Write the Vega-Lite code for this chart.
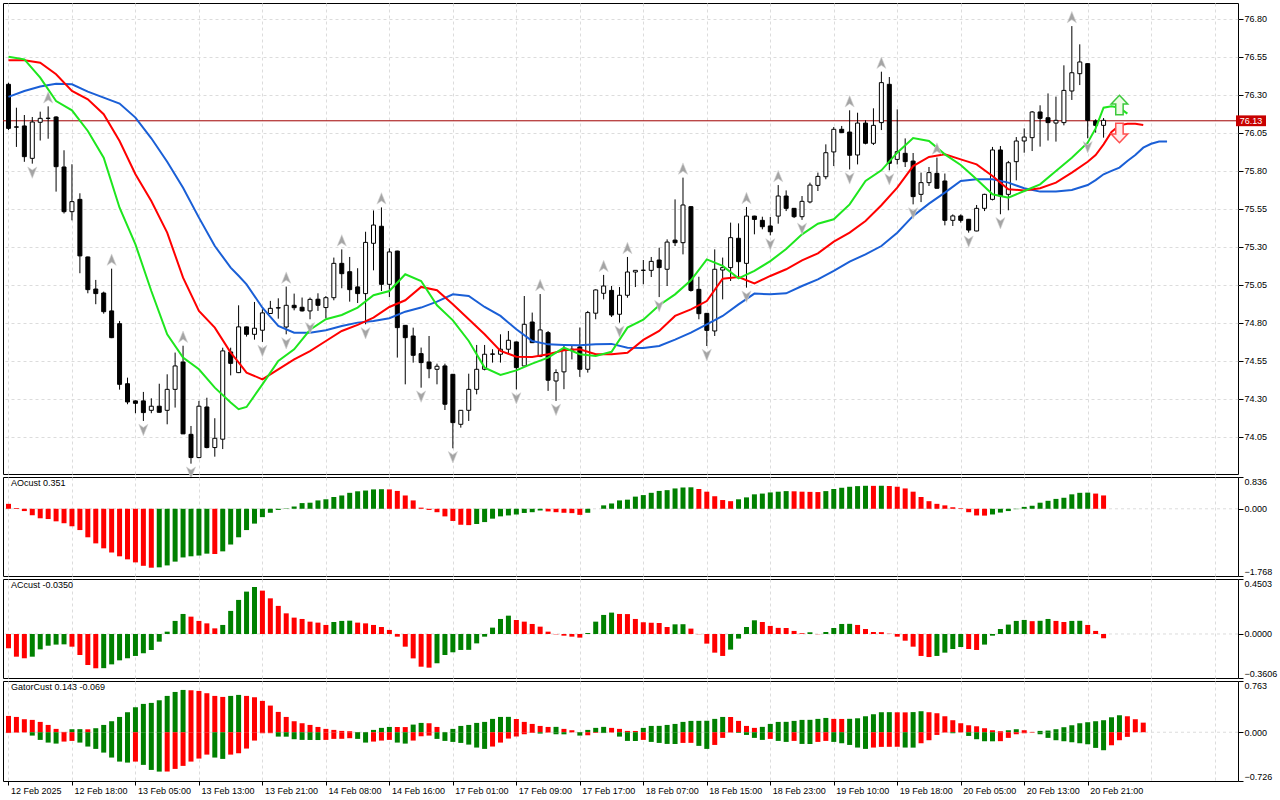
{
  "$schema": "https://vega.github.io/schema/vega-lite/v6.json",
  "background": "#ffffff",
  "padding": {"left": 2, "top": 2, "right": 0, "bottom": 0},
  "spacing": 3,
  "bounds": "flush",
  "config": {
    "view": {"stroke": "#000000", "strokeWidth": 1},
    "font": "Liberation Sans",
    "axis": {"labelFont": "Liberation Sans", "labelFontSize": 9, "labelColor": "#000000", "tickColor": "#000000", "domain": false, "title": null}
  },
  "datasets": {
    "candles": [
      {"i":0,"o":76.37,"h":76.38,"l":76.07,"c":76.08,"ao":0.13,"ac":-0.117},
      {"i":1,"o":76.09,"h":76.216,"l":75.958,"c":76.088,"ao":0.02,"ac":-0.186},
      {"i":2,"o":76.096,"h":76.168,"l":75.86,"c":75.894,"ao":-0.06,"ac":-0.199},
      {"i":3,"o":75.883,"h":76.155,"l":75.848,"c":76.122,"ao":-0.17,"ac":-0.186},
      {"i":4,"o":76.12,"h":76.19,"l":76.0,"c":76.146,"ao":-0.25,"ac":-0.126},
      {"i":5,"o":76.147,"h":76.225,"l":76.012,"c":76.146,"ao":-0.27,"ac":-0.096},
      {"i":6,"o":76.155,"h":76.16,"l":75.664,"c":75.828,"ao":-0.33,"ac":-0.087},
      {"i":7,"o":75.826,"h":75.936,"l":75.52,"c":75.532,"ao":-0.38,"ac":-0.085},
      {"i":8,"o":75.532,"h":75.844,"l":75.475,"c":75.598,"ao":-0.46,"ac":-0.104},
      {"i":9,"o":75.613,"h":75.653,"l":75.127,"c":75.241,"ao":-0.56,"ac":-0.172},
      {"i":10,"o":75.234,"h":75.236,"l":74.995,"c":75.019,"ao":-0.75,"ac":-0.254},
      {"i":11,"o":75.023,"h":75.083,"l":74.923,"c":74.993,"ao":-0.91,"ac":-0.281},
      {"i":12,"o":74.997,"h":75.006,"l":74.861,"c":74.874,"ao":-1.04,"ac":-0.28},
      {"i":13,"o":74.879,"h":75.157,"l":74.7,"c":74.703,"ao":-1.15,"ac":-0.249},
      {"i":14,"o":74.795,"h":74.813,"l":74.361,"c":74.396,"ao":-1.25,"ac":-0.216},
      {"i":15,"o":74.4,"h":74.44,"l":74.265,"c":74.28,"ao":-1.33,"ac":-0.199},
      {"i":16,"o":74.287,"h":74.29,"l":74.206,"c":74.271,"ao":-1.41,"ac":-0.18},
      {"i":17,"o":74.287,"h":74.346,"l":74.155,"c":74.21,"ao":-1.5,"ac":-0.158},
      {"i":18,"o":74.225,"h":74.304,"l":74.206,"c":74.252,"ao":-1.55,"ac":-0.131},
      {"i":19,"o":74.252,"h":74.4,"l":74.21,"c":74.212,"ao":-1.54,"ac":-0.063},
      {"i":20,"o":74.225,"h":74.462,"l":74.133,"c":74.363,"ao":-1.49,"ac":0.019},
      {"i":21,"o":74.363,"h":74.605,"l":74.243,"c":74.517,"ao":-1.39,"ac":0.107},
      {"i":22,"o":74.543,"h":74.65,"l":74.07,"c":74.07,"ao":-1.28,"ac":0.164},
      {"i":23,"o":74.067,"h":74.122,"l":73.874,"c":73.914,"ao":-1.25,"ac":0.142},
      {"i":24,"o":73.914,"h":74.287,"l":73.91,"c":74.252,"ao":-1.23,"ac":0.107},
      {"i":25,"o":74.247,"h":74.308,"l":73.975,"c":73.98,"ao":-1.18,"ac":0.087},
      {"i":26,"o":73.98,"h":74.173,"l":73.92,"c":74.041,"ao":-1.19,"ac":0.046},
      {"i":27,"o":74.035,"h":74.637,"l":73.97,"c":74.616,"ao":-1.12,"ac":0.074},
      {"i":28,"o":74.609,"h":74.637,"l":74.455,"c":74.534,"ao":-0.94,"ac":0.189},
      {"i":29,"o":74.473,"h":74.916,"l":74.47,"c":74.774,"ao":-0.75,"ac":0.279},
      {"i":30,"o":74.774,"h":74.776,"l":74.71,"c":74.725,"ao":-0.56,"ac":0.347},
      {"i":31,"o":74.725,"h":74.938,"l":74.69,"c":74.765,"ao":-0.39,"ac":0.385},
      {"i":32,"o":74.752,"h":74.89,"l":74.675,"c":74.866,"ao":-0.22,"ac":0.355},
      {"i":33,"o":74.862,"h":74.945,"l":74.86,"c":74.896,"ao":-0.105,"ac":0.292},
      {"i":34,"o":74.9,"h":74.962,"l":74.828,"c":74.898,"ao":-0.03,"ac":0.23},
      {"i":35,"o":74.773,"h":75.039,"l":74.725,"c":74.916,"ao":0.01,"ac":0.169},
      {"i":36,"o":74.916,"h":74.993,"l":74.883,"c":74.9,"ao":0.06,"ac":0.134},
      {"i":37,"o":74.903,"h":74.967,"l":74.875,"c":74.879,"ao":0.15,"ac":0.123},
      {"i":38,"o":74.879,"h":74.967,"l":74.824,"c":74.955,"ao":0.16,"ac":0.101},
      {"i":39,"o":74.956,"h":74.995,"l":74.879,"c":74.916,"ao":0.22,"ac":0.093},
      {"i":40,"o":74.901,"h":74.977,"l":74.83,"c":74.966,"ao":0.25,"ac":0.074},
      {"i":41,"o":74.966,"h":75.23,"l":74.949,"c":75.192,"ao":0.31,"ac":0.098},
      {"i":42,"o":75.192,"h":75.284,"l":75.028,"c":75.124,"ao":0.35,"ac":0.107},
      {"i":43,"o":75.137,"h":75.234,"l":74.94,"c":75.019,"ao":0.42,"ac":0.109},
      {"i":44,"o":75.037,"h":75.16,"l":74.931,"c":74.993,"ao":0.46,"ac":0.093},
      {"i":45,"o":74.993,"h":75.4,"l":74.791,"c":75.33,"ao":0.48,"ac":0.087},
      {"i":46,"o":75.324,"h":75.54,"l":75.146,"c":75.444,"ao":0.51,"ac":0.074},
      {"i":47,"o":75.436,"h":75.56,"l":75.01,"c":75.054,"ao":0.515,"ac":0.057},
      {"i":48,"o":75.054,"h":75.291,"l":74.97,"c":75.267,"ao":0.51,"ac":0.033},
      {"i":49,"o":75.273,"h":75.275,"l":74.572,"c":74.769,"ao":0.47,"ac":-0.022},
      {"i":50,"o":74.784,"h":74.786,"l":74.396,"c":74.703,"ao":0.35,"ac":-0.104},
      {"i":51,"o":74.714,"h":74.769,"l":74.539,"c":74.587,"ao":0.22,"ac":-0.2},
      {"i":52,"o":74.598,"h":74.638,"l":74.374,"c":74.539,"ao":0.03,"ac":-0.268},
      {"i":53,"o":74.543,"h":74.714,"l":74.436,"c":74.499,"ao":-0.03,"ac":-0.276},
      {"i":54,"o":74.495,"h":74.532,"l":74.396,"c":74.515,"ao":-0.09,"ac":-0.24},
      {"i":55,"o":74.517,"h":74.532,"l":74.227,"c":74.265,"ao":-0.2,"ac":-0.172},
      {"i":56,"o":74.462,"h":74.464,"l":73.975,"c":74.144,"ao":-0.32,"ac":-0.15},
      {"i":57,"o":74.133,"h":74.227,"l":74.111,"c":74.225,"ao":-0.42,"ac":-0.131},
      {"i":58,"o":74.225,"h":74.466,"l":74.155,"c":74.363,"ao":-0.43,"ac":-0.13},
      {"i":59,"o":74.363,"h":74.655,"l":74.33,"c":74.495,"ao":-0.4,"ac":-0.077},
      {"i":60,"o":74.495,"h":74.655,"l":74.488,"c":74.594,"ao":-0.35,"ac":-0.022},
      {"i":61,"o":74.596,"h":74.627,"l":74.539,"c":74.594,"ao":-0.26,"ac":0.052},
      {"i":62,"o":74.594,"h":74.725,"l":74.539,"c":74.627,"ao":-0.2,"ac":0.123},
      {"i":63,"o":74.627,"h":74.747,"l":74.594,"c":74.686,"ao":-0.175,"ac":0.15},
      {"i":64,"o":74.675,"h":74.677,"l":74.363,"c":74.506,"ao":-0.15,"ac":0.115},
      {"i":65,"o":74.517,"h":74.977,"l":74.515,"c":74.791,"ao":-0.11,"ac":0.101},
      {"i":66,"o":74.806,"h":74.868,"l":74.668,"c":74.67,"ao":-0.09,"ac":0.082},
      {"i":67,"o":74.58,"h":74.99,"l":74.575,"c":74.754,"ao":-0.045,"ac":0.06},
      {"i":68,"o":74.736,"h":74.747,"l":74.353,"c":74.423,"ao":-0.07,"ac":0.019},
      {"i":69,"o":74.418,"h":74.495,"l":74.287,"c":74.473,"ao":-0.09,"ac":-0.003},
      {"i":70,"o":74.478,"h":74.649,"l":74.364,"c":74.627,"ao":-0.105,"ac":-0.014},
      {"i":71,"o":74.627,"h":74.65,"l":74.56,"c":74.62,"ao":-0.115,"ac":-0.022},
      {"i":72,"o":74.642,"h":74.77,"l":74.445,"c":74.495,"ao":-0.16,"ac":-0.03},
      {"i":73,"o":74.495,"h":74.879,"l":74.473,"c":74.868,"ao":-0.105,"ac":0.008},
      {"i":74,"o":74.864,"h":75.021,"l":74.824,"c":75.017,"ao":0.0,"ac":0.101},
      {"i":75,"o":74.995,"h":75.116,"l":74.955,"c":75.043,"ao":0.09,"ac":0.156},
      {"i":76,"o":75.014,"h":75.043,"l":74.839,"c":74.852,"ao":0.14,"ac":0.175},
      {"i":77,"o":74.857,"h":75.036,"l":74.802,"c":74.982,"ao":0.22,"ac":0.164},
      {"i":78,"o":74.982,"h":75.234,"l":74.966,"c":75.135,"ao":0.24,"ac":0.163},
      {"i":79,"o":75.135,"h":75.146,"l":75.036,"c":75.146,"ao":0.32,"ac":0.123},
      {"i":80,"o":75.147,"h":75.214,"l":75.054,"c":75.146,"ao":0.36,"ac":0.096},
      {"i":81,"o":75.146,"h":75.234,"l":75.102,"c":75.205,"ao":0.42,"ac":0.092},
      {"i":82,"o":75.214,"h":75.295,"l":74.97,"c":75.164,"ao":0.47,"ac":0.09},
      {"i":83,"o":75.153,"h":75.35,"l":75.043,"c":75.332,"ao":0.49,"ac":0.057},
      {"i":84,"o":75.345,"h":75.613,"l":75.306,"c":75.328,"ao":0.535,"ac":0.079},
      {"i":85,"o":75.328,"h":75.756,"l":75.251,"c":75.576,"ao":0.56,"ac":0.08},
      {"i":86,"o":75.565,"h":75.567,"l":75.006,"c":75.014,"ao":0.565,"ac":0.044},
      {"i":87,"o":75.021,"h":75.104,"l":74.824,"c":74.861,"ao":0.52,"ac":-0.002},
      {"i":88,"o":74.863,"h":74.865,"l":74.648,"c":74.751,"ao":0.45,"ac":-0.079},
      {"i":89,"o":74.747,"h":75.284,"l":74.714,"c":75.153,"ao":0.33,"ac":-0.153},
      {"i":90,"o":75.148,"h":75.23,"l":74.955,"c":75.164,"ao":0.23,"ac":-0.18},
      {"i":91,"o":75.164,"h":75.46,"l":75.076,"c":75.361,"ao":0.2,"ac":-0.128},
      {"i":92,"o":75.357,"h":75.455,"l":75.098,"c":75.203,"ao":0.25,"ac":-0.038},
      {"i":93,"o":75.192,"h":75.563,"l":75.032,"c":75.503,"ao":0.3,"ac":0.057},
      {"i":94,"o":75.503,"h":75.505,"l":75.383,"c":75.481,"ao":0.38,"ac":0.112},
      {"i":95,"o":75.475,"h":75.499,"l":75.416,"c":75.433,"ao":0.4,"ac":0.098},
      {"i":96,"o":75.438,"h":75.497,"l":75.376,"c":75.4,"ao":0.43,"ac":0.066},
      {"i":97,"o":75.503,"h":75.707,"l":75.453,"c":75.635,"ao":0.45,"ac":0.05},
      {"i":98,"o":75.635,"h":75.672,"l":75.536,"c":75.554,"ao":0.465,"ac":0.049},
      {"i":99,"o":75.554,"h":75.556,"l":75.49,"c":75.499,"ao":0.46,"ac":0.025},
      {"i":100,"o":75.499,"h":75.635,"l":75.478,"c":75.6,"ao":0.45,"ac":0.006},
      {"i":101,"o":75.596,"h":75.723,"l":75.587,"c":75.707,"ao":0.445,"ac":0.014},
      {"i":102,"o":75.705,"h":75.789,"l":75.668,"c":75.764,"ao":0.44,"ac":-0.002},
      {"i":103,"o":75.762,"h":75.975,"l":75.745,"c":75.92,"ao":0.465,"ac":0.016},
      {"i":104,"o":75.925,"h":76.089,"l":75.832,"c":76.074,"ao":0.52,"ac":0.049},
      {"i":105,"o":76.074,"h":76.096,"l":76.05,"c":76.052,"ao":0.553,"ac":0.082},
      {"i":106,"o":76.056,"h":76.199,"l":75.81,"c":75.903,"ao":0.579,"ac":0.083},
      {"i":107,"o":75.905,"h":76.183,"l":75.843,"c":76.115,"ao":0.596,"ac":0.074},
      {"i":108,"o":76.115,"h":76.133,"l":75.975,"c":75.982,"ao":0.605,"ac":0.041},
      {"i":109,"o":75.982,"h":76.212,"l":75.971,"c":76.1,"ao":0.603,"ac":0.016},
      {"i":110,"o":76.118,"h":76.453,"l":76.069,"c":76.381,"ao":0.606,"ac":0.015},
      {"i":111,"o":76.37,"h":76.418,"l":75.804,"c":75.85,"ao":0.6,"ac":0.002},
      {"i":112,"o":75.876,"h":76.205,"l":75.843,"c":75.927,"ao":0.58,"ac":-0.022},
      {"i":113,"o":75.916,"h":76.014,"l":75.826,"c":75.861,"ao":0.535,"ac":-0.055},
      {"i":114,"o":75.865,"h":75.918,"l":75.58,"c":75.631,"ao":0.45,"ac":-0.104},
      {"i":115,"o":75.646,"h":75.789,"l":75.595,"c":75.723,"ao":0.31,"ac":-0.18},
      {"i":116,"o":75.723,"h":75.826,"l":75.701,"c":75.789,"ao":0.2,"ac":-0.189},
      {"i":117,"o":75.784,"h":75.888,"l":75.685,"c":75.686,"ao":0.13,"ac":-0.18},
      {"i":118,"o":75.734,"h":75.783,"l":75.442,"c":75.475,"ao":0.09,"ac":-0.153},
      {"i":119,"o":75.475,"h":75.514,"l":75.438,"c":75.504,"ao":0.04,"ac":-0.123},
      {"i":120,"o":75.504,"h":75.514,"l":75.46,"c":75.475,"ao":0.015,"ac":-0.107},
      {"i":121,"o":75.482,"h":75.484,"l":75.394,"c":75.411,"ao":-0.09,"ac":-0.123},
      {"i":122,"o":75.405,"h":75.576,"l":75.403,"c":75.554,"ao":-0.175,"ac":-0.131},
      {"i":123,"o":75.554,"h":75.65,"l":75.536,"c":75.646,"ao":-0.18,"ac":-0.087},
      {"i":124,"o":75.613,"h":75.958,"l":75.606,"c":75.938,"ao":-0.15,"ac":-0.014},
      {"i":125,"o":75.938,"h":75.964,"l":75.515,"c":75.635,"ao":-0.1,"ac":0.041},
      {"i":126,"o":75.646,"h":75.866,"l":75.541,"c":75.854,"ao":-0.06,"ac":0.077},
      {"i":127,"o":75.861,"h":76.023,"l":75.738,"c":75.997,"ao":-0.01,"ac":0.107},
      {"i":128,"o":75.997,"h":76.08,"l":75.92,"c":76.023,"ao":0.05,"ac":0.115},
      {"i":129,"o":76.019,"h":76.194,"l":75.931,"c":76.188,"ao":0.08,"ac":0.105},
      {"i":130,"o":76.188,"h":76.232,"l":75.96,"c":76.146,"ao":0.16,"ac":0.108},
      {"i":131,"o":76.15,"h":76.31,"l":76.0,"c":76.118,"ao":0.21,"ac":0.123},
      {"i":132,"o":76.115,"h":76.289,"l":75.993,"c":76.133,"ao":0.26,"ac":0.107},
      {"i":133,"o":76.118,"h":76.495,"l":76.1,"c":76.33,"ao":0.29,"ac":0.098},
      {"i":134,"o":76.326,"h":76.753,"l":76.267,"c":76.446,"ao":0.38,"ac":0.107},
      {"i":135,"o":76.44,"h":76.633,"l":76.365,"c":76.517,"ao":0.42,"ac":0.108},
      {"i":136,"o":76.506,"h":76.508,"l":76.015,"c":76.133,"ao":0.425,"ac":0.074},
      {"i":137,"o":76.129,"h":76.14,"l":76.052,"c":76.1,"ao":0.4,"ac":0.025},
      {"i":138,"o":76.1,"h":76.148,"l":76.019,"c":76.133,"ao":0.351,"ac":-0.035}
    ],
    "alligator": [
      {"i":0,"jaw":76.287,"teeth":76.528,"lips":76.552},
      {"i":2,"jaw":76.326,"teeth":76.528,"lips":76.534},
      {"i":4,"jaw":76.355,"teeth":76.512,"lips":76.414},
      {"i":6,"jaw":76.374,"teeth":76.436,"lips":76.26},
      {"i":8,"jaw":76.37,"teeth":76.326,"lips":76.199},
      {"i":10,"jaw":76.322,"teeth":76.271,"lips":76.063},
      {"i":12,"jaw":76.282,"teeth":76.173,"lips":75.887},
      {"i":14,"jaw":76.243,"teeth":75.997,"lips":75.558},
      {"i":16,"jaw":76.151,"teeth":75.778,"lips":75.317},
      {"i":18,"jaw":76.015,"teeth":75.602,"lips":75.01},
      {"i":20,"jaw":75.861,"teeth":75.394,"lips":74.725},
      {"i":22,"jaw":75.69,"teeth":75.098,"lips":74.572},
      {"i":24,"jaw":75.493,"teeth":74.879,"lips":74.495},
      {"i":26,"jaw":75.306,"teeth":74.769,"lips":74.374},
      {"i":28,"jaw":75.164,"teeth":74.605,"lips":74.276},
      {"i":29,"jaw":75.11,"teeth":74.54,"lips":74.232},
      {"i":30,"jaw":75.054,"teeth":74.473,"lips":74.247},
      {"i":32,"jaw":74.9,"teeth":74.429,"lips":74.396},
      {"i":34,"jaw":74.78,"teeth":74.495,"lips":74.55},
      {"i":36,"jaw":74.736,"teeth":74.56,"lips":74.626},
      {"i":38,"jaw":74.736,"teeth":74.615,"lips":74.755},
      {"i":40,"jaw":74.752,"teeth":74.681,"lips":74.824},
      {"i":42,"jaw":74.78,"teeth":74.747,"lips":74.852},
      {"i":44,"jaw":74.802,"teeth":74.787,"lips":74.901},
      {"i":46,"jaw":74.813,"teeth":74.835,"lips":74.982},
      {"i":48,"jaw":74.831,"teeth":74.905,"lips":75.01},
      {"i":50,"jaw":74.874,"teeth":74.949,"lips":75.12},
      {"i":52,"jaw":74.901,"teeth":75.037,"lips":75.076},
      {"i":54,"jaw":74.94,"teeth":75.015,"lips":74.916},
      {"i":56,"jaw":74.988,"teeth":74.923,"lips":74.817},
      {"i":58,"jaw":74.977,"teeth":74.824,"lips":74.681},
      {"i":60,"jaw":74.905,"teeth":74.725,"lips":74.506},
      {"i":62,"jaw":74.846,"teeth":74.616,"lips":74.458},
      {"i":64,"jaw":74.758,"teeth":74.578,"lips":74.488},
      {"i":66,"jaw":74.681,"teeth":74.576,"lips":74.532},
      {"i":68,"jaw":74.659,"teeth":74.594,"lips":74.572},
      {"i":70,"jaw":74.655,"teeth":74.62,"lips":74.638},
      {"i":72,"jaw":74.653,"teeth":74.627,"lips":74.594},
      {"i":74,"jaw":74.659,"teeth":74.594,"lips":74.583},
      {"i":76,"jaw":74.662,"teeth":74.594,"lips":74.61},
      {"i":78,"jaw":74.637,"teeth":74.604,"lips":74.769},
      {"i":80,"jaw":74.635,"teeth":74.688,"lips":74.821},
      {"i":82,"jaw":74.648,"teeth":74.747,"lips":74.916},
      {"i":84,"jaw":74.69,"teeth":74.846,"lips":74.988},
      {"i":86,"jaw":74.736,"teeth":74.889,"lips":75.08},
      {"i":88,"jaw":74.791,"teeth":74.944,"lips":75.218},
      {"i":90,"jaw":74.846,"teeth":75.091,"lips":75.175},
      {"i":92,"jaw":74.922,"teeth":75.102,"lips":75.093},
      {"i":94,"jaw":74.993,"teeth":75.06,"lips":75.142},
      {"i":96,"jaw":74.988,"teeth":75.109,"lips":75.207},
      {"i":98,"jaw":74.995,"teeth":75.153,"lips":75.286},
      {"i":100,"jaw":75.043,"teeth":75.212,"lips":75.383},
      {"i":102,"jaw":75.087,"teeth":75.258,"lips":75.453},
      {"i":104,"jaw":75.142,"teeth":75.335,"lips":75.482},
      {"i":106,"jaw":75.203,"teeth":75.394,"lips":75.58},
      {"i":108,"jaw":75.251,"teeth":75.471,"lips":75.734},
      {"i":110,"jaw":75.306,"teeth":75.574,"lips":75.804},
      {"i":112,"jaw":75.394,"teeth":75.69,"lips":75.92},
      {"i":114,"jaw":75.504,"teeth":75.832,"lips":76.017},
      {"i":116,"jaw":75.585,"teeth":75.892,"lips":75.997},
      {"i":118,"jaw":75.657,"teeth":75.909,"lips":75.909},
      {"i":120,"jaw":75.734,"teeth":75.876,"lips":75.839},
      {"i":122,"jaw":75.745,"teeth":75.843,"lips":75.745},
      {"i":124,"jaw":75.745,"teeth":75.767,"lips":75.646},
      {"i":126,"jaw":75.723,"teeth":75.679,"lips":75.624},
      {"i":128,"jaw":75.686,"teeth":75.672,"lips":75.668},
      {"i":130,"jaw":75.664,"teeth":75.686,"lips":75.712},
      {"i":132,"jaw":75.664,"teeth":75.723,"lips":75.8},
      {"i":134,"jaw":75.675,"teeth":75.789,"lips":75.887},
      {"i":136,"jaw":75.707,"teeth":75.86,"lips":75.986},
      {"i":137,"jaw":75.74,"teeth":75.905,"lips":76.08},
      {"i":138,"jaw":75.778,"teeth":75.975,"lips":76.216},
      {"i":139,"jaw":75.8,"teeth":76.056,"lips":76.225},
      {"i":140,"jaw":75.822,"teeth":76.1,"lips":76.216},
      {"i":141,"jaw":75.865,"teeth":76.111,"lips":76.177},
      {"i":142,"jaw":75.905,"teeth":76.111},
      {"i":143,"jaw":75.953,"teeth":76.102},
      {"i":144,"jaw":75.979},
      {"i":145,"jaw":75.993},
      {"i":146,"jaw":75.993}
    ],
    "gator": [
      {"i":0,"up":0.243,"dn":-0.012},{"i":1,"up":0.228,"dn":-0.006},{"i":2,"up":0.194,"dn":-0.003},
      {"i":3,"up":0.184,"dn":-0.05},{"i":4,"up":0.154,"dn":-0.114},{"i":5,"up":0.109,"dn":-0.154},
      {"i":6,"up":0.05,"dn":-0.169},{"i":7,"up":0.005,"dn":-0.139},{"i":8,"up":0.045,"dn":-0.129},
      {"i":9,"up":0.046,"dn":-0.154},{"i":10,"up":0.044,"dn":-0.213},{"i":11,"up":0.06,"dn":-0.248},
      {"i":12,"up":0.109,"dn":-0.303},{"i":13,"up":0.164,"dn":-0.377},{"i":14,"up":0.228,"dn":-0.437},
      {"i":15,"up":0.298,"dn":-0.452},{"i":16,"up":0.372,"dn":-0.437},{"i":17,"up":0.422,"dn":-0.486},
      {"i":18,"up":0.437,"dn":-0.561},{"i":19,"up":0.476,"dn":-0.586},{"i":20,"up":0.541,"dn":-0.585},
      {"i":21,"up":0.6,"dn":-0.546},{"i":22,"up":0.63,"dn":-0.501},{"i":23,"up":0.625,"dn":-0.437},
      {"i":24,"up":0.615,"dn":-0.392},{"i":25,"up":0.581,"dn":-0.333},{"i":26,"up":0.541,"dn":-0.377},
      {"i":27,"up":0.526,"dn":-0.397},{"i":28,"up":0.541,"dn":-0.333},{"i":29,"up":0.556,"dn":-0.313},
      {"i":30,"up":0.541,"dn":-0.243},{"i":31,"up":0.521,"dn":-0.124},{"i":32,"up":0.467,"dn":-0.015},
      {"i":33,"up":0.397,"dn":-0.014},{"i":34,"up":0.303,"dn":-0.065},{"i":35,"up":0.228,"dn":-0.066},
      {"i":36,"up":0.164,"dn":-0.104},{"i":37,"up":0.134,"dn":-0.114},{"i":38,"up":0.109,"dn":-0.115},
      {"i":39,"up":0.079,"dn":-0.116},{"i":40,"up":0.05,"dn":-0.114},{"i":41,"up":0.035,"dn":-0.099},
      {"i":42,"up":0.02,"dn":-0.098},{"i":43,"up":0.015,"dn":-0.089},{"i":44,"up":0.003,"dn":-0.099},
      {"i":45,"up":0.002,"dn":-0.154},{"i":46,"up":0.035,"dn":-0.139},{"i":47,"up":0.065,"dn":-0.124},
      {"i":48,"up":0.079,"dn":-0.114},{"i":49,"up":0.078,"dn":-0.154},{"i":50,"up":0.077,"dn":-0.169},
      {"i":51,"up":0.114,"dn":-0.124},{"i":52,"up":0.139,"dn":-0.06},{"i":53,"up":0.134,"dn":-0.05},
      {"i":54,"up":0.079,"dn":-0.099},{"i":55,"up":0.001,"dn":-0.129},{"i":56,"up":0.05,"dn":-0.144},
      {"i":57,"up":0.094,"dn":-0.159},{"i":58,"up":0.109,"dn":-0.184},{"i":59,"up":0.139,"dn":-0.228},
      {"i":60,"up":0.154,"dn":-0.248},{"i":61,"up":0.199,"dn":-0.213},{"i":62,"up":0.228,"dn":-0.154},
      {"i":63,"up":0.229,"dn":-0.094},{"i":64,"up":0.199,"dn":-0.065},{"i":65,"up":0.154,"dn":-0.03},
      {"i":66,"up":0.124,"dn":-0.01},{"i":67,"up":0.094,"dn":-0.02},{"i":68,"up":0.079,"dn":-0.005},
      {"i":69,"up":0.08,"dn":-0.03},{"i":70,"up":0.05,"dn":-0.031},{"i":71,"up":0.03,"dn":-0.002},
      {"i":72,"up":0.002,"dn":-0.05},{"i":73,"up":0.035,"dn":-0.045},{"i":74,"up":0.065,"dn":-0.01},
      {"i":75,"up":0.08,"dn":-0.012},{"i":76,"up":0.065,"dn":-0.004},{"i":77,"up":0.05,"dn":-0.065},
      {"i":78,"up":0.02,"dn":-0.129},{"i":79,"up":0.019,"dn":-0.13},{"i":80,"up":0.065,"dn":-0.114},
      {"i":81,"up":0.094,"dn":-0.144},{"i":82,"up":0.095,"dn":-0.159},{"i":83,"up":0.109,"dn":-0.174},
      {"i":84,"up":0.124,"dn":-0.175},{"i":85,"up":0.154,"dn":-0.159},{"i":86,"up":0.169,"dn":-0.158},
      {"i":87,"up":0.17,"dn":-0.203},{"i":88,"up":0.171,"dn":-0.248},{"i":89,"up":0.199,"dn":-0.189},
      {"i":90,"up":0.228,"dn":-0.084},{"i":91,"up":0.227,"dn":-0.005},{"i":92,"up":0.169,"dn":-0.01},
      {"i":93,"up":0.094,"dn":-0.04},{"i":94,"up":0.065,"dn":-0.084},{"i":95,"up":0.08,"dn":-0.114},
      {"i":96,"up":0.124,"dn":-0.099},{"i":97,"up":0.154,"dn":-0.129},{"i":98,"up":0.155,"dn":-0.144},
      {"i":99,"up":0.169,"dn":-0.129},{"i":100,"up":0.184,"dn":-0.174},{"i":101,"up":0.185,"dn":-0.175},
      {"i":102,"up":0.199,"dn":-0.144},{"i":103,"up":0.213,"dn":-0.129},{"i":104,"up":0.199,"dn":-0.144},
      {"i":105,"up":0.198,"dn":-0.164},{"i":106,"up":0.2,"dn":-0.189},{"i":107,"up":0.208,"dn":-0.228},
      {"i":108,"up":0.238,"dn":-0.248},{"i":109,"up":0.268,"dn":-0.228},{"i":110,"up":0.298,"dn":-0.218},
      {"i":111,"up":0.299,"dn":-0.217},{"i":112,"up":0.297,"dn":-0.216},{"i":113,"up":0.296,"dn":-0.228},
      {"i":114,"up":0.3,"dn":-0.229},{"i":115,"up":0.313,"dn":-0.164},{"i":116,"up":0.298,"dn":-0.119},
      {"i":117,"up":0.283,"dn":-0.04},{"i":118,"up":0.238,"dn":-0.005},{"i":119,"up":0.179,"dn":-0.015},
      {"i":120,"up":0.134,"dn":-0.003},{"i":121,"up":0.104,"dn":-0.055},{"i":122,"up":0.089,"dn":-0.104},
      {"i":123,"up":0.06,"dn":-0.134},{"i":124,"up":0.03,"dn":-0.135},{"i":125,"up":0.015,"dn":-0.133},
      {"i":126,"up":0.03,"dn":-0.084},{"i":127,"up":0.045,"dn":-0.03},{"i":128,"up":0.03,"dn":-0.015},
      {"i":129,"up":0.005,"dn":-0.005},{"i":130,"up":0.02,"dn":-0.03},{"i":131,"up":0.025,"dn":-0.084},
      {"i":132,"up":0.045,"dn":-0.119},{"i":133,"up":0.075,"dn":-0.134},{"i":134,"up":0.104,"dn":-0.149},
      {"i":135,"up":0.134,"dn":-0.164},{"i":136,"up":0.149,"dn":-0.179},{"i":137,"up":0.164,"dn":-0.233},
      {"i":138,"up":0.179,"dn":-0.268},{"i":139,"up":0.223,"dn":-0.194},{"i":140,"up":0.253,"dn":-0.119},
      {"i":141,"up":0.238,"dn":-0.069},{"i":142,"up":0.194},{"i":143,"up":0.143}
    ],
    "fractals": [
      {"i":5,"p":76.225,"t":"up"},{"i":13,"p":75.157,"t":"up"},{"i":22,"p":74.65,"t":"up"},
      {"i":35,"p":75.039,"t":"up"},{"i":42,"p":75.284,"t":"up"},{"i":47,"p":75.56,"t":"up"},
      {"i":67,"p":74.99,"t":"up"},{"i":75,"p":75.116,"t":"up"},{"i":78,"p":75.234,"t":"up"},
      {"i":85,"p":75.756,"t":"up"},{"i":93,"p":75.563,"t":"up"},{"i":97,"p":75.707,"t":"up"},
      {"i":106,"p":76.199,"t":"up"},{"i":110,"p":76.453,"t":"up"},{"i":117,"p":75.888,"t":"up"},
      {"i":134,"p":76.753,"t":"up"},
      {"i":3,"p":75.848,"t":"down"},{"i":17,"p":74.155,"t":"down"},{"i":23,"p":73.874,"t":"down"},
      {"i":32,"p":74.675,"t":"down"},{"i":35,"p":74.725,"t":"down"},{"i":38,"p":74.824,"t":"down"},
      {"i":45,"p":74.791,"t":"down"},{"i":52,"p":74.374,"t":"down"},{"i":56,"p":73.975,"t":"down"},
      {"i":64,"p":74.363,"t":"down"},{"i":69,"p":74.287,"t":"down"},{"i":77,"p":74.802,"t":"down"},
      {"i":82,"p":74.97,"t":"down"},{"i":88,"p":74.648,"t":"down"},{"i":93,"p":75.032,"t":"down"},
      {"i":96,"p":75.376,"t":"down"},{"i":100,"p":75.478,"t":"down"},{"i":106,"p":75.81,"t":"down"},
      {"i":111,"p":75.804,"t":"down"},{"i":114,"p":75.58,"t":"down"},{"i":121,"p":75.394,"t":"down"},
      {"i":125,"p":75.515,"t":"down"},{"i":136,"p":76.015,"t":"down"}
    ],
    "signals": [
      {"i":140,"p":76.234,"t":"buy"},
      {"i":140,"p":76.05,"t":"sell"}
    ]
  },
  "vconcat": [
    {
      "width": 1235,
      "height": 471,
      "layer": [
        {
          "data": {"values": [{}]},
          "mark": {"type": "rule", "color": "#a00000", "strokeWidth": 1},
          "encoding": {
            "y": {"datum": 76.13, "type": "quantitative", "scale": {"domain": [73.806, 76.905], "nice": false, "zero": false}, "title": null,
              "axis": {"orient": "right", "values": [74.05, 74.3, 74.55, 74.8, 75.05, 75.3, 75.55, 75.8, 76.05, 76.3, 76.55, 76.8], "format": ".2f", "grid": true, "gridColor": "#dcdcdc", "gridDash": [3, 3], "tickSize": 5, "labelPadding": 1, "labelOverlap": false, "labelFlush": false, "title": null}}
          }
        },
        {
          "data": {"name": "candles"},
          "mark": {"type": "rule", "color": "#000000", "strokeWidth": 1, "clip": true},
          "encoding": {
            "x": {"field": "i", "type": "quantitative", "scale": {"domain": [-0.06, 154.31], "nice": false, "zero": false}, "title": null,
              "axis": {"values": [0,4,8,12,16,20,24,28,32,36,40,44,48,52,56,60,64,68,72,76,80,84,88,92,96,100,104,108,112,116,120,124,128,132,136,140,144,148,152], "labels": false, "ticks": false, "grid": true, "gridColor": "#dcdcdc", "gridDash": [3, 3], "title": null}},
            "y": {"field": "l", "type": "quantitative", "scale": {"domain": [73.806, 76.905], "nice": false, "zero": false}, "title": null},
            "y2": {"field": "h"}
          }
        },
        {
          "data": {"name": "candles"},
          "mark": {"type": "bar", "width": 4, "stroke": "#000000", "strokeWidth": 1, "orient": "vertical", "clip": true},
          "encoding": {
            "x": {"field": "i", "type": "quantitative", "scale": {"domain": [-0.06, 154.31], "nice": false, "zero": false}, "title": null},
            "y": {"field": "o", "type": "quantitative", "scale": {"domain": [73.806, 76.905], "nice": false, "zero": false}, "title": null},
            "y2": {"field": "c"},
            "fill": {"condition": {"test": "datum.c < datum.o", "value": "#000000"}, "value": "#ffffff"}
          }
        },
        {
          "data": {"name": "alligator"},
          "transform": [{"filter": "isValid(datum.jaw)"}],
          "mark": {"type": "line", "color": "#1a5fd6", "strokeWidth": 2, "clip": true},
          "encoding": {
            "x": {"field": "i", "type": "quantitative", "scale": {"domain": [-0.06, 154.31], "nice": false, "zero": false}, "title": null},
            "y": {"field": "jaw", "type": "quantitative", "scale": {"domain": [73.806, 76.905], "nice": false, "zero": false}, "title": null}
          }
        },
        {
          "data": {"name": "alligator"},
          "transform": [{"filter": "isValid(datum.teeth)"}],
          "mark": {"type": "line", "color": "#ff0000", "strokeWidth": 2, "clip": true},
          "encoding": {
            "x": {"field": "i", "type": "quantitative", "scale": {"domain": [-0.06, 154.31], "nice": false, "zero": false}, "title": null},
            "y": {"field": "teeth", "type": "quantitative", "scale": {"domain": [73.806, 76.905], "nice": false, "zero": false}, "title": null}
          }
        },
        {
          "data": {"name": "alligator"},
          "transform": [{"filter": "isValid(datum.lips)"}],
          "mark": {"type": "line", "color": "#1ee61e", "strokeWidth": 2, "clip": true},
          "encoding": {
            "x": {"field": "i", "type": "quantitative", "scale": {"domain": [-0.06, 154.31], "nice": false, "zero": false}, "title": null},
            "y": {"field": "lips", "type": "quantitative", "scale": {"domain": [73.806, 76.905], "nice": false, "zero": false}, "title": null}
          }
        },
        {
          "data": {"name": "fractals"},
          "transform": [{"filter": "datum.t == 'up'"}],
          "mark": {"type": "point", "shape": "M0,-1 L0.8,1 L0,0.45 L-0.8,1 Z", "size": 130, "filled": true, "fill": "#a4a4a4", "stroke": "#d4d4d4", "strokeWidth": 0.6, "opacity": 1, "yOffset": -9},
          "encoding": {
            "x": {"field": "i", "type": "quantitative", "scale": {"domain": [-0.06, 154.31], "nice": false, "zero": false}, "title": null},
            "y": {"field": "p", "type": "quantitative", "scale": {"domain": [73.806, 76.905], "nice": false, "zero": false}, "title": null}
          }
        },
        {
          "data": {"name": "fractals"},
          "transform": [{"filter": "datum.t == 'down'"}],
          "mark": {"type": "point", "shape": "M0,1 L0.8,-1 L0,-0.45 L-0.8,-1 Z", "size": 130, "filled": true, "fill": "#a4a4a4", "stroke": "#d4d4d4", "strokeWidth": 0.6, "opacity": 1, "yOffset": 9},
          "encoding": {
            "x": {"field": "i", "type": "quantitative", "scale": {"domain": [-0.06, 154.31], "nice": false, "zero": false}, "title": null},
            "y": {"field": "p", "type": "quantitative", "scale": {"domain": [73.806, 76.905], "nice": false, "zero": false}, "title": null}
          }
        },
        {
          "data": {"name": "signals"},
          "transform": [{"filter": "datum.t == 'buy'"}],
          "mark": {"type": "point", "shape": "M0,-1 L0.85,-0.1 L0.38,-0.1 L0.38,1 L-0.38,1 L-0.38,-0.1 L-0.85,-0.1 Z", "size": 380, "filled": true, "fill": "#eefbe6", "stroke": "#3cc83c", "strokeWidth": 1.5, "opacity": 1},
          "encoding": {
            "x": {"field": "i", "type": "quantitative", "scale": {"domain": [-0.06, 154.31], "nice": false, "zero": false}, "title": null},
            "y": {"field": "p", "type": "quantitative", "scale": {"domain": [73.806, 76.905], "nice": false, "zero": false}, "title": null}
          }
        },
        {
          "data": {"name": "signals"},
          "transform": [{"filter": "datum.t == 'sell'"}],
          "mark": {"type": "point", "shape": "M0,1 L0.85,0.1 L0.38,0.1 L0.38,-1 L-0.38,-1 L-0.38,0.1 L-0.85,0.1 Z", "size": 380, "filled": true, "fill": "#ffecec", "stroke": "#ff5050", "strokeWidth": 1.5, "opacity": 1},
          "encoding": {
            "x": {"field": "i", "type": "quantitative", "scale": {"domain": [-0.06, 154.31], "nice": false, "zero": false}, "title": null},
            "y": {"field": "p", "type": "quantitative", "scale": {"domain": [73.806, 76.905], "nice": false, "zero": false}, "title": null}
          }
        },
        {
          "data": {"values": [{}]},
          "mark": {"type": "point", "shape": "M-1,-0.36 L1,-0.36 L1,0.36 L-1,0.36 Z", "size": 900, "filled": true, "fill": "#c80000", "opacity": 1, "xOffset": 18},
          "encoding": {
            "x": {"datum": 154.31, "type": "quantitative", "scale": {"domain": [-0.06, 154.31], "nice": false, "zero": false}, "title": null},
            "y": {"datum": 76.13, "type": "quantitative", "scale": {"domain": [73.806, 76.905], "nice": false, "zero": false}, "title": null}
          }
        },
        {
          "data": {"values": [{}]},
          "mark": {"type": "text", "align": "center", "baseline": "middle", "dx": 18, "color": "#ffffff", "font": "Liberation Sans", "fontSize": 9},
          "encoding": {
            "x": {"datum": 154.31, "type": "quantitative", "scale": {"domain": [-0.06, 154.31], "nice": false, "zero": false}, "title": null},
            "y": {"datum": 76.13, "type": "quantitative", "scale": {"domain": [73.806, 76.905], "nice": false, "zero": false}, "title": null},
            "text": {"value": "76.13"}
          }
        }
      ]
    },
    {
      "width": 1235,
      "height": 99,
      "layer": [
        {
          "data": {"values": [{}]},
          "mark": {"type": "rule", "color": "#dcdcdc", "strokeDash": [3, 3]},
          "encoding": {
            "y": {"datum": 0, "type": "quantitative", "scale": {"domain": [-1.768, 0.836], "nice": false, "zero": false}, "title": null,
              "axis": {"orient": "right", "values": [-1.768, 0, 0.836], "format": ".3f", "grid": false, "tickSize": 5, "labelPadding": 1, "labelFlush": true, "labelOverlap": false, "title": null}}
          }
        },
        {
          "data": {"name": "candles"},
          "transform": [
            {"window": [{"op": "lag", "field": "ao", "as": "ao0"}], "sort": [{"field": "i", "order": "ascending"}]},
            {"calculate": "isValid(datum.ao0) && datum.ao > datum.ao0 ? 'up' : 'down'", "as": "dir"}
          ],
          "mark": {"type": "bar", "width": 5, "orient": "vertical", "clip": true},
          "encoding": {
            "x": {"field": "i", "type": "quantitative", "scale": {"domain": [-0.06, 154.31], "nice": false, "zero": false}, "title": null,
              "axis": {"values": [0,4,8,12,16,20,24,28,32,36,40,44,48,52,56,60,64,68,72,76,80,84,88,92,96,100,104,108,112,116,120,124,128,132,136,140,144,148,152], "labels": false, "ticks": false, "grid": true, "gridColor": "#dcdcdc", "gridDash": [3, 3], "title": null}},
            "y": {"field": "ao", "type": "quantitative", "scale": {"domain": [-1.768, 0.836], "nice": false, "zero": false}, "title": null, "stack": null},
            "y2": {"datum": 0},
            "color": {"field": "dir", "type": "nominal", "scale": {"domain": ["up", "down"], "range": ["#008000", "#ff0000"]}, "legend": null}
          }
        },
        {
          "data": {"values": [{}]},
          "mark": {"type": "text", "align": "left", "baseline": "top", "dx": 3, "dy": 2, "font": "Liberation Sans", "fontSize": 9, "color": "#000000"},
          "encoding": {
            "x": {"datum": -0.06, "type": "quantitative", "scale": {"domain": [-0.06, 154.31], "nice": false, "zero": false}, "title": null},
            "y": {"datum": 0.836, "type": "quantitative", "scale": {"domain": [-1.768, 0.836], "nice": false, "zero": false}, "title": null},
            "text": {"value": "AOcust 0.351"}
          }
        }
      ]
    },
    {
      "width": 1235,
      "height": 99,
      "layer": [
        {
          "data": {"values": [{}]},
          "mark": {"type": "rule", "color": "#dcdcdc", "strokeDash": [3, 3]},
          "encoding": {
            "y": {"datum": 0, "type": "quantitative", "scale": {"domain": [-0.3606, 0.4503], "nice": false, "zero": false}, "title": null,
              "axis": {"orient": "right", "values": [-0.3606, 0, 0.4503], "format": ".4f", "grid": false, "tickSize": 5, "labelPadding": 1, "labelFlush": true, "labelOverlap": false, "title": null}}
          }
        },
        {
          "data": {"name": "candles"},
          "transform": [
            {"window": [{"op": "lag", "field": "ac", "as": "ac0"}], "sort": [{"field": "i", "order": "ascending"}]},
            {"calculate": "isValid(datum.ac0) && datum.ac > datum.ac0 ? 'up' : 'down'", "as": "dir"}
          ],
          "mark": {"type": "bar", "width": 5, "orient": "vertical", "clip": true},
          "encoding": {
            "x": {"field": "i", "type": "quantitative", "scale": {"domain": [-0.06, 154.31], "nice": false, "zero": false}, "title": null,
              "axis": {"values": [0,4,8,12,16,20,24,28,32,36,40,44,48,52,56,60,64,68,72,76,80,84,88,92,96,100,104,108,112,116,120,124,128,132,136,140,144,148,152], "labels": false, "ticks": false, "grid": true, "gridColor": "#dcdcdc", "gridDash": [3, 3], "title": null}},
            "y": {"field": "ac", "type": "quantitative", "scale": {"domain": [-0.3606, 0.4503], "nice": false, "zero": false}, "title": null, "stack": null},
            "y2": {"datum": 0},
            "color": {"field": "dir", "type": "nominal", "scale": {"domain": ["up", "down"], "range": ["#008000", "#ff0000"]}, "legend": null}
          }
        },
        {
          "data": {"values": [{}]},
          "mark": {"type": "text", "align": "left", "baseline": "top", "dx": 3, "dy": 2, "font": "Liberation Sans", "fontSize": 9, "color": "#000000"},
          "encoding": {
            "x": {"datum": -0.06, "type": "quantitative", "scale": {"domain": [-0.06, 154.31], "nice": false, "zero": false}, "title": null},
            "y": {"datum": 0.4503, "type": "quantitative", "scale": {"domain": [-0.3606, 0.4503], "nice": false, "zero": false}, "title": null},
            "text": {"value": "ACcust -0.0350"}
          }
        }
      ]
    },
    {
      "width": 1235,
      "height": 100,
      "layer": [
        {
          "data": {"values": [{}]},
          "mark": {"type": "rule", "color": "#dcdcdc", "strokeDash": [3, 3]},
          "encoding": {
            "y": {"datum": 0, "type": "quantitative", "scale": {"domain": [-0.726, 0.763], "nice": false, "zero": false}, "title": null,
              "axis": {"orient": "right", "values": [-0.726, 0, 0.763], "format": ".3f", "grid": false, "tickSize": 5, "labelPadding": 1, "labelFlush": true, "labelOverlap": false, "title": null}}
          }
        },
        {
          "data": {"name": "gator"},
          "transform": [
            {"window": [{"op": "lag", "field": "up", "as": "up0"}], "sort": [{"field": "i", "order": "ascending"}]},
            {"calculate": "isValid(datum.up0) && datum.up > datum.up0 ? 'up' : 'down'", "as": "dir"}
          ],
          "mark": {"type": "bar", "width": 5, "orient": "vertical", "clip": true},
          "encoding": {
            "x": {"field": "i", "type": "quantitative", "scale": {"domain": [-0.06, 154.31], "nice": false, "zero": false}, "title": null,
              "axis": {
                "values": [0,4,8,12,16,20,24,28,32,36,40,44,48,52,56,60,64,68,72,76,80,84,88,92,96,100,104,108,112,116,120,124,128,132,136,140,144,148,152],
                "grid": true, "gridColor": "#dcdcdc", "gridDash": [3, 3],
                "ticks": true, "tickSize": 4,
                "tickOpacity": {"condition": {"test": "datum.value % 8 === 0 && datum.value <= 136", "value": 1}, "value": 0},
                "labelExpr": "datum.value % 8 === 0 && datum.value <= 136 ? ['12 Feb 2025','12 Feb 18:00','13 Feb 05:00','13 Feb 13:00','13 Feb 21:00','14 Feb 08:00','14 Feb 16:00','17 Feb 01:00','17 Feb 09:00','17 Feb 17:00','18 Feb 07:00','18 Feb 15:00','18 Feb 23:00','19 Feb 10:00','19 Feb 18:00','20 Feb 05:00','20 Feb 13:00','20 Feb 21:00'][datum.value / 8] : ''",
                "labelAlign": "left", "labelOffset": 2, "labelPadding": 1, "labelOverlap": false, "labelFlush": false, "labelBound": false, "title": null
              }},
            "y": {"field": "up", "type": "quantitative", "scale": {"domain": [-0.726, 0.763], "nice": false, "zero": false}, "title": null, "stack": null},
            "y2": {"datum": 0},
            "color": {"field": "dir", "type": "nominal", "scale": {"domain": ["up", "down"], "range": ["#008000", "#ff0000"]}, "legend": null}
          }
        },
        {
          "data": {"name": "gator"},
          "transform": [
            {"window": [{"op": "lag", "field": "dn", "as": "dn0"}], "sort": [{"field": "i", "order": "ascending"}]},
            {"filter": "isValid(datum.dn)"},
            {"calculate": "isValid(datum.dn0) && abs(datum.dn) > abs(datum.dn0) ? 'up' : 'down'", "as": "dir"}
          ],
          "mark": {"type": "bar", "width": 5, "orient": "vertical", "clip": true},
          "encoding": {
            "x": {"field": "i", "type": "quantitative", "scale": {"domain": [-0.06, 154.31], "nice": false, "zero": false}, "title": null},
            "y": {"field": "dn", "type": "quantitative", "scale": {"domain": [-0.726, 0.763], "nice": false, "zero": false}, "title": null, "stack": null},
            "y2": {"datum": 0},
            "color": {"field": "dir", "type": "nominal", "scale": {"domain": ["up", "down"], "range": ["#008000", "#ff0000"]}, "legend": null}
          }
        },
        {
          "data": {"values": [{}]},
          "mark": {"type": "text", "align": "left", "baseline": "top", "dx": 3, "dy": 2, "font": "Liberation Sans", "fontSize": 9, "color": "#000000"},
          "encoding": {
            "x": {"datum": -0.06, "type": "quantitative", "scale": {"domain": [-0.06, 154.31], "nice": false, "zero": false}, "title": null},
            "y": {"datum": 0.763, "type": "quantitative", "scale": {"domain": [-0.726, 0.763], "nice": false, "zero": false}, "title": null},
            "text": {"value": "GatorCust 0.143 -0.069"}
          }
        }
      ]
    }
  ]
}
